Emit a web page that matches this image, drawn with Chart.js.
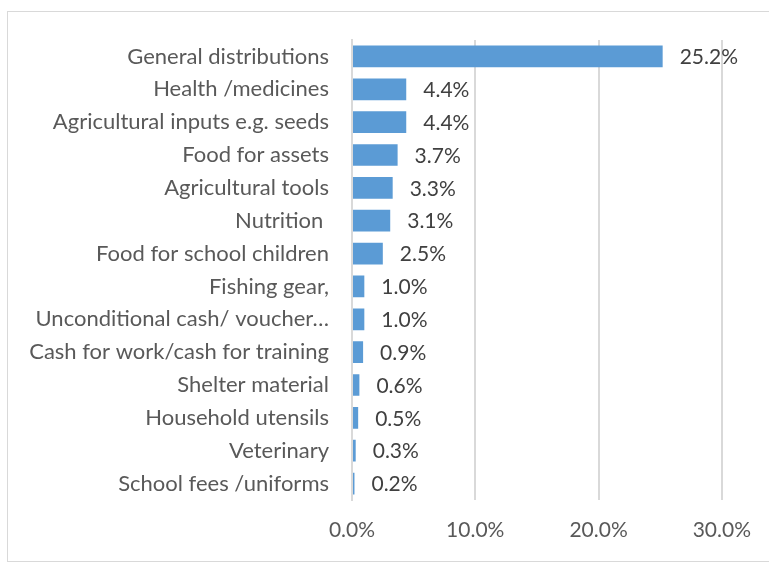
<!DOCTYPE html>
<html>
<head>
<meta charset="utf-8">
<script src="https://cdn.jsdelivr.net/npm/chart.js@4/dist/chart.umd.min.js"></script>
<style>
  html, body { margin: 0; padding: 0; background: #fff; overflow: hidden; }
  body { width: 769px; height: 563px; position: relative; }
  #frame { position: absolute; left: 7px; top: 11px; width: 780px; height: 549px; border: 1px solid #d9d9d9; }
  #chart { position: absolute; left: 0; top: 0; }
</style>
</head>
<body>
<div id="frame"></div>
<canvas id="chart" width="769" height="563"></canvas>
<script>
const categories = [
  "General distributions",
  "Health /medicines",
  "Agricultural inputs e.g. seeds",
  "Food for assets",
  "Agricultural tools",
  "Nutrition ",
  "Food for school children",
  "Fishing gear,",
  "Unconditional cash/ voucher\u2026",
  "Cash for work/cash for training",
  "Shelter material",
  "Household utensils",
  "Veterinary",
  "School fees /uniforms"
];
const shares = [25.2, 4.4, 4.4, 3.7, 3.3, 3.1, 2.5, 1.0, 1.0, 0.9, 0.6, 0.5, 0.3, 0.2];
const xTicks = [0, 10, 20, 30];

const FONT = "Lato, sans-serif";

// value labels at the end of each bar
const valueLabels = {
  id: "valueLabels",
  afterDatasetsDraw(chart) {
    const ctx = chart.ctx;
    const meta = chart.getDatasetMeta(0);
    ctx.save();
    ctx.font = "21px " + FONT;
    ctx.fillStyle = "#404040";
    ctx.textAlign = "left";
    ctx.textBaseline = "middle";
    meta.data.forEach((bar, i) => {
      ctx.fillText(shares[i].toFixed(1) + "%", bar.x + 17, bar.y + 1);
    });
    ctx.restore();
  }
};

new Chart(document.getElementById("chart").getContext("2d"), {
  type: "bar",
  data: {
    labels: categories,
    datasets: [{
      data: shares,
      backgroundColor: "#5b9bd5",
      borderWidth: 0,
      categoryPercentage: 0.66,
      barPercentage: 1
    }]
  },
  options: {
    indexAxis: "y",
    responsive: false,
    animation: false,
    devicePixelRatio: 1,
    layout: { padding: { top: 40, right: 46, bottom: 0, left: 0 } },
    plugins: { legend: { display: false }, tooltip: { enabled: false } },
    scales: {
      x: {
        min: 0,
        max: 30,
        afterBuildTicks(scale) { scale.ticks = xTicks.map(v => ({ value: v })); },
        afterFit(scale) { scale.height = 63; },
        grid: { color: "#d9d9d9", lineWidth: 2, drawTicks: false },
        border: { display: false },
        ticks: {
          padding: 18,
          color: "#595959",
          font: { family: FONT, size: 21 },
          callback: v => v.toFixed(1) + "%"
        }
      },
      y: {
        afterFit(scale) { scale.width = 352; },
        grid: { display: false, drawTicks: false },
        border: { display: true, color: "#d9d9d9", width: 2 },
        ticks: {
          padding: 23,
          color: "#595959",
          font: { family: FONT, size: 22 }
        }
      }
    }
  },
  plugins: [valueLabels]
});
</script>
</body>
</html>
